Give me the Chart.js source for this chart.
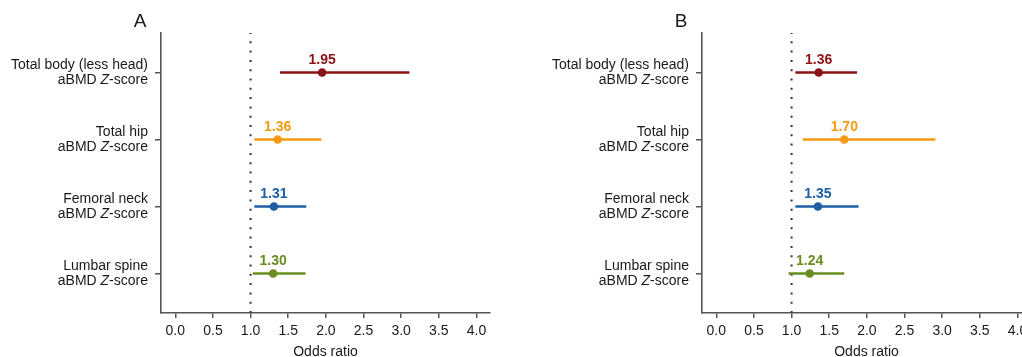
<!DOCTYPE html>
<html>
<head>
<meta charset="utf-8">
<script src="https://cdn.jsdelivr.net/npm/chart.js@4/dist/chart.umd.min.js"></script>
<style>
  html, body { margin: 0; padding: 0; background: #fff; overflow: hidden; width: 1022px; height: 357px; }
  .panel { position: absolute; top: 0; width: 541px; height: 357px; }
  #wrapA { left: 0; }
  #wrapB { left: 541px; }
</style>
</head>
<body>
<div class="panel" id="wrapA"><canvas id="chartA" width="541" height="357"></canvas></div>
<div class="panel" id="wrapB"><canvas id="chartB" width="541" height="357"></canvas></div>
<script>
// Bone-density sites, top to bottom
const sites = ['Total body (less head)', 'Total hip', 'Femoral neck', 'Lumbar spine'];
const siteColors = ['#8b1313', '#f39a12', '#1d5ea4', '#6a8c22'];
const xTickValues = [0, 0.5, 1, 1.5, 2, 2.5, 3, 3.5, 4];
const nullValue = 1;

// Panel A: odds ratios with 95% CI
const orA = [1.95, 1.36, 1.31, 1.30];
const lowA = [1.39, 1.05, 1.05, 1.03];
const highA = [3.11, 1.94, 1.74, 1.73];

// Panel B: odds ratios with 95% CI
const orB = [1.36, 1.70, 1.35, 1.24];
const lowB = [1.05, 1.15, 1.05, 0.96];
const highB = [1.87, 2.91, 1.89, 1.70];

const FONT = "'Liberation Sans', Arial, Helvetica, sans-serif";
const TEXT = '#1a1a1a';
const AXIS = '#555555';
const Y_MIN = 0.41, Y_MAX = 4.59;
const rowY = i => sites.length - i;

function buildDatasets(or, low, high) {
  const ds = [{
    data: [{ x: nullValue, y: Y_MIN }, { x: nullValue, y: Y_MAX }],
    showLine: true, borderColor: '#333', borderWidth: 2, borderDash: [2, 7.3],
    pointRadius: 0, order: 3, clip: false
  }];
  sites.forEach((s, i) => {
    ds.push({
      data: [{ x: low[i], y: rowY(i) }, { x: high[i], y: rowY(i) }],
      showLine: true, borderColor: siteColors[i], borderWidth: 2.6,
      pointRadius: 0, order: 2
    });
    ds.push({
      data: [{ x: or[i], y: rowY(i) }],
      showLine: false, pointRadius: 4.3, pointBackgroundColor: siteColors[i],
      pointBorderWidth: 0, order: 1
    });
  });
  return ds;
}

function annotations(letter, or) {
  return {
    id: 'annot' + letter,
    afterDraw(chart) {
      const { ctx, chartArea, scales } = chart;
      ctx.save();
      // panel letter
      ctx.fillStyle = TEXT;
      ctx.font = `19px ${FONT}`;
      ctx.textAlign = 'center';
      ctx.textBaseline = 'middle';
      ctx.fillText(letter, chartArea.left - 21, 22);

      // site labels with italic Z
      const rightX = chartArea.left - 13;
      sites.forEach((s, i) => {
        const y = scales.y.getPixelForValue(rowY(i));
        ctx.textBaseline = 'middle';
        ctx.fillStyle = TEXT;
        ctx.font = `14px ${FONT}`;
        ctx.textAlign = 'right';
        ctx.fillText(s, rightX, y - 7.7);
        const parts = [['aBMD ', false], ['Z', true], ['-score', false]];
        let total = 0;
        parts.forEach(([t, it]) => {
          ctx.font = `${it ? 'italic ' : ''}14px ${FONT}`;
          total += ctx.measureText(t).width;
        });
        let x = rightX - total;
        ctx.textAlign = 'left';
        parts.forEach(([t, it]) => {
          ctx.font = `${it ? 'italic ' : ''}14px ${FONT}`;
          ctx.fillText(t, x, y + 7.7);
          x += ctx.measureText(t).width;
        });
      });

      // value labels above each estimate
      ctx.font = `bold 14px ${FONT}`;
      ctx.textAlign = 'center';
      ctx.textBaseline = 'middle';
      sites.forEach((s, i) => {
        ctx.fillStyle = siteColors[i];
        ctx.fillText(or[i].toFixed(2), scales.x.getPixelForValue(or[i]),
          scales.y.getPixelForValue(rowY(i)) - 12.5);
      });
      ctx.restore();
    }
  };
}

function makeChart(id, letter, or, low, high) {
  return new Chart(document.getElementById(id), {
    type: 'scatter',
    data: { datasets: buildDatasets(or, low, high) },
    options: {
      responsive: false,
      animation: false,
      devicePixelRatio: 1,
      layout: { padding: { left: 0, right: 51, top: 33, bottom: 0 } },
      plugins: { legend: { display: false }, tooltip: { enabled: false } },
      scales: {
        x: {
          type: 'linear', min: -0.19, max: 4.18,
          afterBuildTicks: sc => { sc.ticks = xTickValues.map(v => ({ value: v })); },
          afterFit: sc => { sc.height = 44; },
          ticks: { callback: v => Number(v).toFixed(1), color: TEXT, font: { family: FONT, size: 14 }, padding: 5, maxRotation: 0, autoSkip: false },
          grid: { drawOnChartArea: false, drawTicks: true, tickLength: 5, color: AXIS, lineWidth: 1.5 },
          border: { display: true, color: AXIS, width: 1.6 },
          title: { display: true, text: 'Odds ratio', color: TEXT, font: { family: FONT, size: 14, lineHeight: 1 }, padding: { top: 0, bottom: -2.5 } }
        },
        y: {
          type: 'linear', min: Y_MIN, max: Y_MAX,
          afterBuildTicks: sc => { sc.ticks = sites.map((s, i) => ({ value: rowY(i) })); },
          afterFit: sc => { sc.width = 161; },
          ticks: { display: false },
          grid: { drawOnChartArea: false, drawTicks: true, tickLength: 6, color: AXIS, lineWidth: 1.5 },
          border: { display: true, color: AXIS, width: 1.6 }
        }
      }
    },
    plugins: [annotations(letter, or)]
  });
}

makeChart('chartA', 'A', orA, lowA, highA);
makeChart('chartB', 'B', orB, lowB, highB);
</script>
</body>
</html>
